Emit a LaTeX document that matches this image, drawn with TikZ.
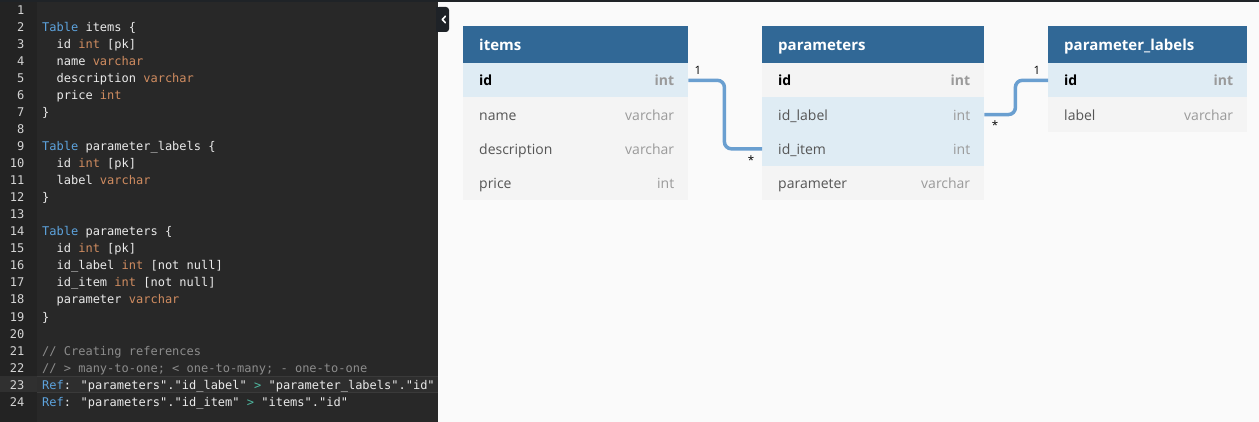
\documentclass[tikz,border=0pt]{standalone}
\usepackage{fontspec}
\setmainfont{Open Sans}
\newfontfamily\codefont{DejaVu Sans Mono}
\usetikzlibrary{calc}
\definecolor{canvasbg}{HTML}{FAFAFA}
\definecolor{editorbg}{HTML}{282828}
\definecolor{gutterbg}{HTML}{232323}
\definecolor{hlline}{HTML}{2E2E2E}
\definecolor{hlborder}{HTML}{3A3A3A}
\definecolor{hlgutter}{HTML}{303030}
\definecolor{topstrip}{HTML}{1F2327}
\definecolor{lnumcol}{HTML}{D4D4D4}
\definecolor{codetxt}{HTML}{EAEAEA}
\definecolor{kwcol}{HTML}{5DA3DD}
\definecolor{tycol}{HTML}{D08C60}
\definecolor{cmcol}{HTML}{8C8C8C}
\definecolor{opcol}{HTML}{4FB8A0}
\definecolor{hdrcol}{HTML}{316896}
\definecolor{rowhl}{HTML}{DFECF4}
\definecolor{rowpl}{HTML}{F4F4F4}
\definecolor{fieldcol}{HTML}{555555}
\definecolor{typecol}{HTML}{9A9A9A}
\definecolor{conncol}{HTML}{6A9FD0}
\definecolor{tabcol}{HTML}{1E2227}
\newcommand\kw[1]{\textcolor{kwcol}{#1}}
\newcommand\ty[1]{\textcolor{tycol}{#1}}
\newcommand\cm[1]{\textcolor{cmcol}{#1}}
\newcommand\opr[1]{\textcolor{opcol}{#1}}
\newcommand\cl[3]{\node[codeline] (c#1) at ({42+#2*7.224},{15+(#1-1)*17}) {#3};}
\newcommand\dbrow[8]{%
  \node[rowbox,#5,minimum width=#4pt,anchor=north west] (#1) at (#2,#3) {};
  \node[#6name,anchor=base west] (#1-n) at ($(#1.west)+(16,5.5)$) {#7};
  \node[#6type,anchor=base east] (#1-t) at ($(#1.east)+(-14,5.5)$) {#8};
}
\newcommand\dbhead[5]{%
  \node[hdrbox,minimum width=#4pt,anchor=north west] (#1) at (#2,#3) {};
  \node[hdrtxt,anchor=base west] (#1-title) at ($(#1.west)+(16,5.5)$) {#5};
}
\begin{document}
\begin{tikzpicture}[x=1pt,y=-1pt,
  codeline/.style={anchor=base west,inner sep=0pt,text=codetxt,font=\codefont\fontsize{12}{14}\selectfont},
  lnum/.style={anchor=base east,inner sep=0pt,text=lnumcol,font=\codefont\fontsize{12}{14}\selectfont},
  rowbox/.style={inner sep=0pt,minimum height=34.25pt,draw=none},
  hl/.style={fill=rowhl},
  pl/.style={fill=rowpl},
  hdrbox/.style={inner sep=0pt,minimum height=37pt,fill=hdrcol,draw=none},
  hdrtxt/.style={inner sep=0pt,text=white,font=\bfseries\fontsize{15}{17}\selectfont},
  pkname/.style={inner sep=0pt,text=black,font=\bfseries\fontsize{14}{16}\selectfont},
  pktype/.style={inner sep=0pt,text=typecol,font=\bfseries\fontsize{14}{16}\selectfont},
  plname/.style={inner sep=0pt,text=fieldcol,font=\fontsize{14}{16}\selectfont},
  pltype/.style={inner sep=0pt,text=typecol,font=\fontsize{14}{16}\selectfont},
  conn/.style={draw=conncol,line width=3.5pt,rounded corners=7pt},
  card/.style={inner sep=0pt,text=black,font=\fontsize{11.5}{12}\selectfont}
]
\useasboundingbox (0,0) rectangle (1259,422);
% backgrounds
\fill[canvasbg] (0,0) rectangle (1259,422);
\fill[editorbg] (0,0) rectangle (438,422);
\fill[gutterbg] (0,0) rectangle (37,422);
\fill[hlgutter] (0,376) rectangle (37,392);
\fill[hlline] (37,376) rectangle (438,392);
\draw[hlborder,line width=0.8pt] (37,376) -- (438,376) (37,392) -- (438,392);
\fill[topstrip] (0,0) rectangle (1259,2);
% collapse tab
\fill[tabcol,rounded corners=3pt] (436,7) rectangle (449,32);
\fill[tabcol] (436,7) rectangle (440,32);
\draw[white,line width=1.6pt,line cap=round,line join=round] (445.3,16.3) -- (442.3,19.5) -- (445.3,22.7);
% line numbers
\foreach \n in {1,...,24} \node[lnum] (ln\n) at (24.5,{15+(\n-1)*17}) {\n};
% code
\cl{2}{0}{\kw{Table} items \{}
\cl{3}{2}{id \ty{int} [pk]}
\cl{4}{2}{name \ty{varchar}}
\cl{5}{2}{description \ty{varchar}}
\cl{6}{2}{price \ty{int}}
\cl{7}{0}{\}}
\cl{9}{0}{\kw{Table} parameter\_labels \{}
\cl{10}{2}{id \ty{int} [pk]}
\cl{11}{2}{label \ty{varchar}}
\cl{12}{0}{\}}
\cl{14}{0}{\kw{Table} parameters \{}
\cl{15}{2}{id \ty{int} [pk]}
\cl{16}{2}{id\_label \ty{int} [not null]}
\cl{17}{2}{id\_item \ty{int} [not null]}
\cl{18}{2}{parameter \ty{varchar}}
\cl{19}{0}{\}}
\cl{21}{0}{\cm{// Creating references}}
\cl{22}{0}{\cm{// > many-to-one; < one-to-many; - one-to-one}}
\cl{23}{0}{\kw{Ref}: "parameters"."id\_label" \opr{>} "parameter\_labels"."id"}
\cl{24}{0}{\kw{Ref}: "parameters"."id\_item" \opr{>} "items"."id"}
% table items
\dbhead{items}{463}{26}{225}{items}
\dbrow{items-id}{463}{63}{225}{hl}{pk}{id}{int}
\dbrow{items-name}{463}{97.25}{225}{pl}{pl}{name}{varchar}
\dbrow{items-desc}{463}{131.5}{225}{pl}{pl}{description}{varchar}
\dbrow{items-price}{463}{165.75}{225}{pl}{pl}{price}{int}
% table parameters
\dbhead{par}{762}{26}{222}{parameters}
\dbrow{par-id}{762}{63}{222}{pl}{pk}{id}{int}
\dbrow{par-idlabel}{762}{97.25}{222}{hl}{pl}{id\_label}{int}
\dbrow{par-iditem}{762}{131.5}{222}{hl}{pl}{id\_item}{int}
\dbrow{par-param}{762}{165.75}{222}{pl}{pl}{parameter}{varchar}
% table parameter_labels
\dbhead{pl}{1048}{26}{199}{parameter\_labels}
\dbrow{pl-id}{1048}{63}{199}{hl}{pk}{id}{int}
\dbrow{pl-label}{1048}{97.25}{199}{pl}{pl}{label}{varchar}
% connectors
\draw[conn] (items-id.east) -- ++(36,0) |- (par-iditem.west);
\draw[conn] (par-idlabel.east) -- ++(31,0) |- (pl-id.west);
% cardinalities
\node[card] (k1) at (698,70.5) {1};
\node[card] (k2) at (751,160) {*};
\node[card] (k3) at (995,125) {*};
\node[card] (k4) at (1037,70.5) {1};
\end{tikzpicture}
\end{document}
